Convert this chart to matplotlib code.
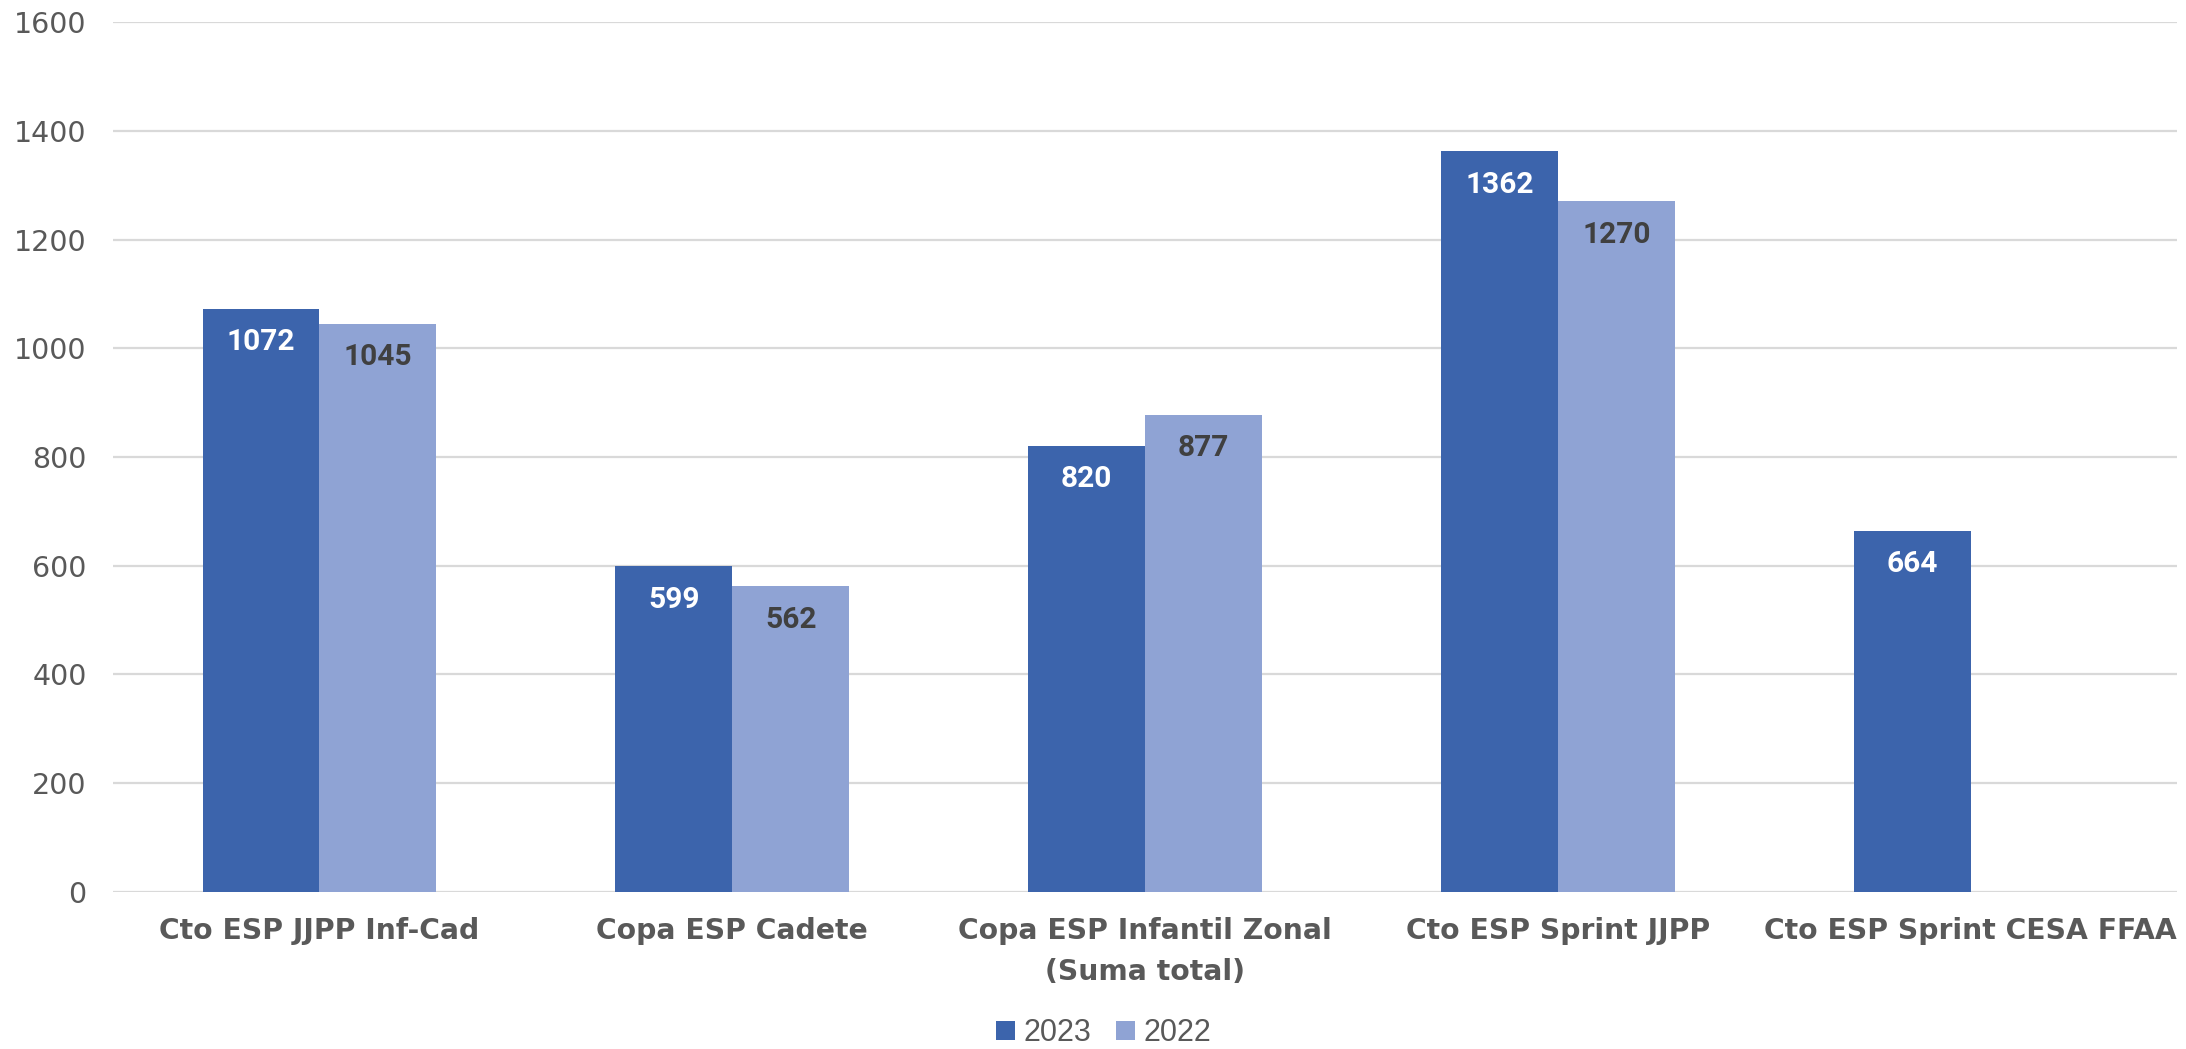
import matplotlib
matplotlib.use("Agg")
import matplotlib.pyplot as plt
import numpy as np

categories = ["Cto ESP JJPP Inf-Cad", "Copa ESP Cadete", "Copa ESP Infantil Zonal\n(Suma total)",
              "Cto ESP Sprint JJPP", "Cto ESP Sprint CESA FFAA"]
series_2023 = [1072, 599, 820, 1362, 664]
series_2022 = [1045, 562, 877, 1270, np.nan]
yticks = [0, 200, 400, 600, 800, 1000, 1200, 1400, 1600]

c23 = "#3C64AC"
c22 = "#8FA3D4"
grey = "#595959"

fig = plt.figure(figsize=(21.86, 10.49), dpi=100)
ax = fig.add_axes([0.0517, 0.1497, 0.9443, 0.8293])

x = np.arange(len(categories))
w = 0.283
b1 = ax.bar(x - w / 2, series_2023, w, color=c23, label="2023", zorder=3)
b2 = ax.bar(x + w / 2, series_2022, w, color=c22, label="2022", zorder=3)

for xi, v in zip(x - w / 2, series_2023):
    ax.annotate(f"{v:.0f}", (xi, v), xytext=(0, -24), textcoords="offset points",
                ha="center", va="center", color="white", fontsize=21.5,
                fontfamily="Roboto", fontweight="bold", zorder=4)
for xi, v in zip(x + w / 2, series_2022):
    if np.isnan(v):
        continue
    ax.annotate(f"{v:.0f}", (xi, v), xytext=(0, -24), textcoords="offset points",
                ha="center", va="center", color="#404040", fontsize=21.5,
                fontfamily="Roboto", fontweight="bold", zorder=4)

ax.set_xlim(-0.5, len(categories) - 0.5)
ax.set_ylim(0, 1600)
ax.set_yticks(yticks)
ax.set_yticklabels([str(t) for t in yticks], fontsize=20.5, color=grey, fontfamily="DejaVu Sans")
ax.set_xticks(x)
ax.set_xticklabels(categories, fontsize=20.3, color=grey, fontweight="bold", fontfamily="DejaVu Sans",
                   linespacing=1.6, va="top")
ax.tick_params(axis="y", length=0, pad=19)
ax.tick_params(axis="x", length=0, pad=18)
ax.grid(axis="y", color="#D9D9D9", linewidth=1.6, zorder=0)
for s in ax.spines.values():
    s.set_visible(False)

fig.legend(handles=[b1, b2], labels=["2023", "2022"], loc="center", bbox_to_anchor=(0.505, 0.015),
           ncol=2, frameon=False, prop={"family": "Liberation Sans", "size": 22},
           labelcolor=grey, handlelength=0.6, handleheight=0.6, handletextpad=0.3,
           columnspacing=0.8, borderaxespad=0)

fig.savefig("out.png", dpi=100)
